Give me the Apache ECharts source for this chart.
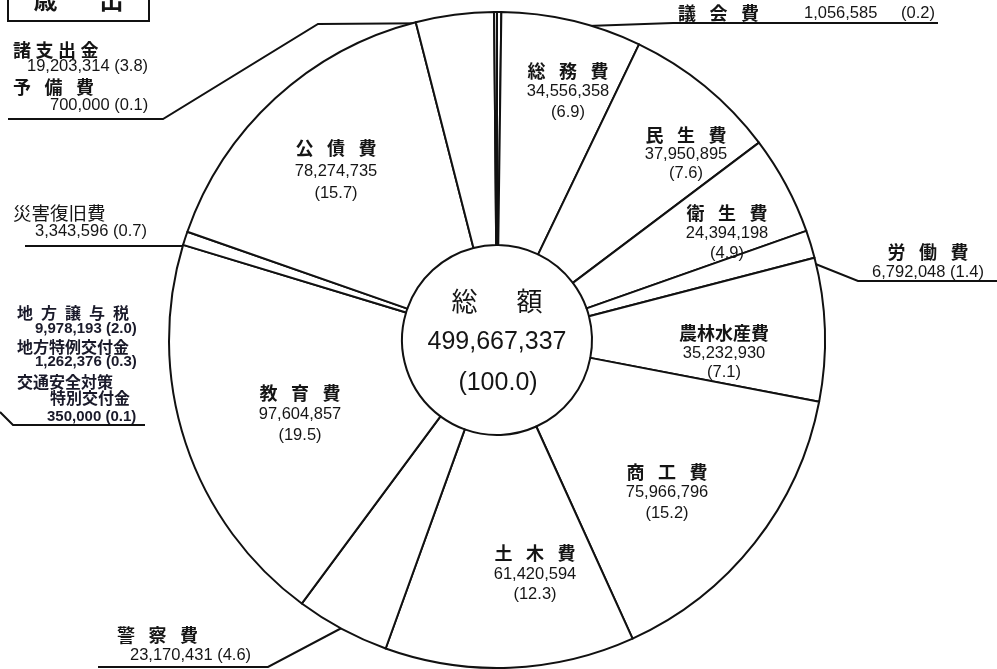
<!DOCTYPE html>
<html>
<head>
<meta charset="utf-8">
<script src="https://cdn.jsdelivr.net/npm/echarts@6.0.0/dist/echarts.min.js"></script>
<style>
  html, body { margin: 0; padding: 0; background: #fff; }
  #chart { width: 997px; height: 669px; }
</style>
</head>
<body>
<div id="chart"></div>
<script>
// 歳出 by purpose, clockwise from 12 o'clock
const categories = ['議会費', '総務費', '民生費', '衛生費', '労働費', '農林水産費', '商工費',
  '土木費', '警察費', '教育費', '災害復旧費', '公債費', '諸支出金', '予備費'];
const amounts = [1056585, 34556358, 37950895, 24394198, 6792048, 35232930, 75966796,
  61420594, 23170431, 97604857, 3343596, 78274735, 19203314, 700000];
const shares = ['0.2', '6.9', '7.6', '4.9', '1.4', '7.1', '15.2',
  '12.3', '4.6', '19.5', '0.7', '15.7', '3.8', '0.1'];

// side note block on the left edge
const noteNames = ['地方譲与税', '地方特例交付金', '交通安全対策特別交付金'];
const noteAmounts = [9978193, 1262376, 350000];
const noteShares = ['2.0', '0.3', '0.1'];

const CJK = '"Noto Sans CJK JP", sans-serif';
const NUM = '"Liberation Sans", Arial, sans-serif';
const INK = '#151515';

const fmt = n => n.toLocaleString('en-US');
const spaced = (s, gap) => Array.from(s).join(gap);
const G3 = '\u2002\u2005';

// where each slice's label sits
const labelSpots = [
  { kind: 'row',   x: 678, y: 13.5, lh: 20, gap: G3, cols: [126, 97] }, // 議会費
  { kind: 'stack', x: 568, y: 91.5, lh: 20.5, gap: G3 },                // 総務費
  { kind: 'stack', x: 686, y: 154,  lh: 19,   gap: G3 },                // 民生費
  { kind: 'stack', x: 727, y: 233,  lh: 20,   gap: G3 },                // 衛生費
  { kind: 'pair',  x: 928, y: 262,  lh: 20,   gap: G3 },                // 労働費
  { kind: 'stack', x: 724, y: 353,  lh: 19.5, gap: '' },                // 農林水産費
  { kind: 'stack', x: 667, y: 492.5, lh: 20.5, gap: G3 },               // 商工費
  { kind: 'stack', x: 535, y: 574,  lh: 20.5, gap: G3 },                // 土木費
  { kind: 'left',  x: 117, y: 645,  lh: 20,   gap: G3, indent: 13 },    // 警察費
  { kind: 'stack', x: 300, y: 414,  lh: 21,   gap: G3 },                // 教育費
  { kind: 'left',  x: 13,  y: 222,  lh: 18,   gap: '', indent: 22, nameSize: 18.5, light: true }, // 災害復旧費
  { kind: 'stack', x: 336, y: 171,  lh: 22.5, gap: G3 },                // 公債費
  { kind: 'left',  x: 13,  y: 58,   lh: 16,   gap: '\u2005', indent: 14 }, // 諸支出金
  { kind: 'left',  x: 13,  y: 96,   lh: 18.5, gap: G3, indent: 37 }     // 予備費
];

const isCentered = s => s.kind === 'stack' || s.kind === 'pair';

const pieData = categories.map((name, i) => {
  const s = labelSpots[i];
  const nm = spaced(name, s.gap);
  const amt = fmt(amounts[i]);
  const pct = '(' + shares[i] + ')';
  const base = { color: INK, lineHeight: s.lh };
  const nStyle = Object.assign({}, base, {
    fontFamily: CJK, fontSize: s.nameSize || 18, fontWeight: s.light ? 'normal' : 'bold'
  });
  const vStyle = Object.assign({}, base, { fontFamily: NUM, fontSize: 16.5 });
  let formatter, rich;
  if (s.kind === 'row') {
    formatter = '{n|' + nm + '}{a|' + amt + '}{p|' + pct + '}';
    rich = {
      n: Object.assign({}, nStyle, { width: s.cols[0] }),
      a: Object.assign({}, vStyle, { width: s.cols[1] }),
      p: vStyle
    };
  } else if (s.kind === 'stack') {
    formatter = '{n|' + nm + '}\n{a|' + amt + '}\n{a|' + pct + '}';
    rich = { n: nStyle, a: vStyle };
  } else if (s.kind === 'pair') {
    formatter = '{n|' + nm + '}\n{a|' + amt + ' ' + pct + '}';
    rich = { n: nStyle, a: vStyle };
  } else {
    formatter = '{n|' + nm + '}\n{a|' + amt + ' ' + pct + '}';
    rich = { n: nStyle, a: Object.assign({}, vStyle, { padding: [0, 0, 0, s.indent] }) };
  }
  return {
    name: name,
    value: amounts[i],
    label: { formatter: formatter, rich: rich, align: isCentered(s) ? 'center' : 'left' }
  };
});

const total = amounts.reduce((a, b) => a + b, 0);

// leader lines from the thin slices to their captions
const leaders = [
  [[502, 29], [673, 23], [938, 23]],
  [[8, 119], [163, 119], [318, 24], [459, 23]],
  [[25, 246], [183, 246], [213, 249]],
  [[798, 257], [858, 281], [997, 281]],
  [[98, 667], [268, 667], [370, 613]],
  [[0, 412], [13, 425], [145, 425]]
];

const noteLines = [
  { text: spaced(noteNames[0], '\u2002'), x: 17, y: 313, cjk: true },
  { text: fmt(noteAmounts[0]) + ' (' + noteShares[0] + ')', x: 35, y: 329 },
  { text: noteNames[1], x: 17, y: 347, cjk: true },
  { text: fmt(noteAmounts[1]) + ' (' + noteShares[1] + ')', x: 35, y: 362 },
  { text: noteNames[2].slice(0, 6), x: 17, y: 382, cjk: true },
  { text: noteNames[2].slice(6), x: 50, y: 398, cjk: true },
  { text: fmt(noteAmounts[2]) + ' (' + noteShares[2] + ')', x: 47, y: 417 }
];

const graphics = [];
leaders.forEach(pts => {
  graphics.push({
    type: 'polyline', silent: true,
    shape: { points: pts },
    style: { stroke: '#111', lineWidth: 2, fill: null }
  });
});
noteLines.forEach(t => {
  graphics.push({
    type: 'text', silent: true,
    style: {
      text: t.text, x: t.x, y: t.y, fill: '#1a1a2a',
      font: t.cjk ? 'bold 16px ' + CJK : 'bold 15px ' + NUM,
      align: 'left', verticalAlign: 'middle'
    }
  });
});
// heading box
graphics.push({
  type: 'rect', silent: true,
  shape: { x: 8, y: -12, width: 141, height: 33 },
  style: { stroke: '#111', lineWidth: 2, fill: '#fff' }
});
graphics.push({
  type: 'text', silent: true,
  style: { text: '歳\u3000\u2002\u2005出', x: 78.5, y: 0, fill: INK,
    font: 'bold 24px ' + CJK, align: 'center', verticalAlign: 'middle' }
});
// total in the middle of the ring
graphics.push({
  type: 'text', silent: true,
  style: { text: '総\u3000\u2002額', x: 497, y: 301, fill: INK,
    font: '26px ' + CJK, align: 'center', verticalAlign: 'middle' }
});
graphics.push({
  type: 'text', silent: true,
  style: { text: fmt(total), x: 497, y: 342, fill: INK,
    font: '25px ' + NUM, align: 'center', verticalAlign: 'middle' }
});
graphics.push({
  type: 'text', silent: true,
  style: { text: '(100.0)', x: 498, y: 383, fill: INK,
    font: '25px ' + NUM, align: 'center', verticalAlign: 'middle' }
});

const chart = echarts.init(document.getElementById('chart'), null, { renderer: 'canvas' });
chart.setOption({
  backgroundColor: '#fff',
  animation: false,
  series: [{
    type: 'pie',
    center: [497, 340],
    radius: [95, 328],
    startAngle: 90,
    clockwise: true,
    silent: true,
    avoidLabelOverlap: false,
    itemStyle: { color: '#fff', borderColor: '#111', borderWidth: 2 },
    label: { show: true, position: 'inside', color: INK },
    labelLine: { show: false },
    labelLayout: function (p) {
      const s = labelSpots[p.dataIndex];
      return { x: s.x, y: s.y, align: isCentered(s) ? 'center' : 'left', verticalAlign: 'middle' };
    },
    emphasis: { disabled: true },
    data: pieData
  }],
  graphic: graphics
});
</script>
</body>
</html>
